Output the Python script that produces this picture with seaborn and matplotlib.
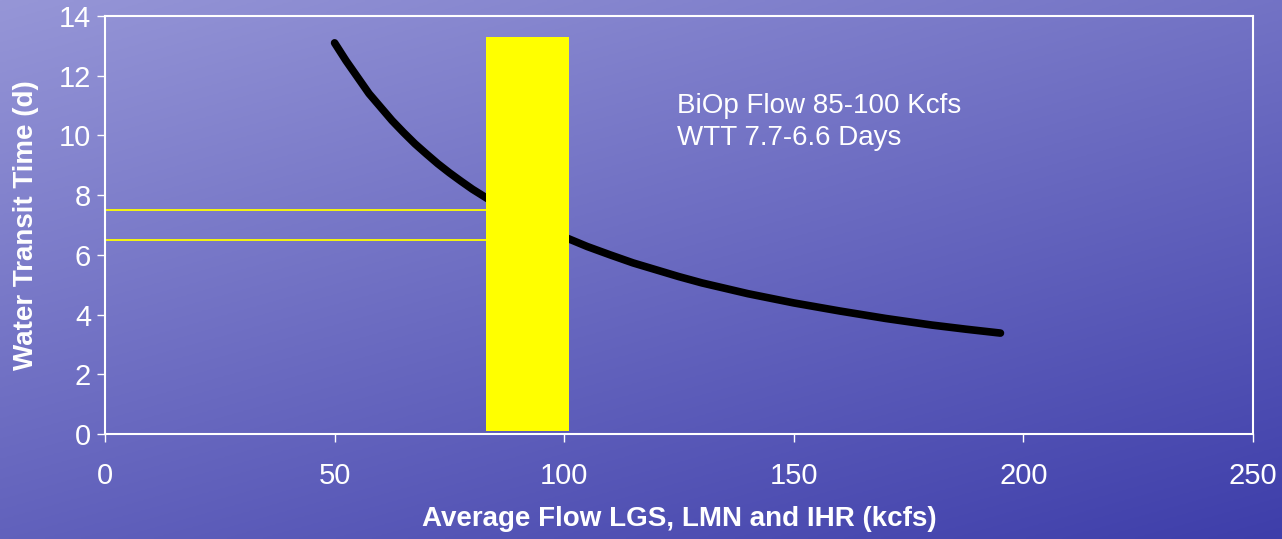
import matplotlib
matplotlib.use("Agg")
import matplotlib.pyplot as plt
import numpy as np
import pandas as pd
import seaborn as sns

# curve
flow = [50, 52.5, 55, 57.5, 60, 62.5, 65, 67.5, 70, 72.5, 75, 77.5, 80, 85, 90, 95, 100,
        105, 110, 115, 120, 125, 130, 140, 150, 160, 170, 180, 187.5, 195]
wtt = [13.1, 12.5, 11.95, 11.4, 10.95, 10.5, 10.1, 9.72, 9.38, 9.05, 8.75, 8.47, 8.2,
       7.72, 7.3, 6.93, 6.6, 6.28, 6.0, 5.73, 5.5, 5.27, 5.06, 4.7, 4.39, 4.12, 3.87,
       3.65, 3.51, 3.38]

bar_left, bar_right = 83, 101
bar_bottom, bar_top = 0.1, 13.3
wtt_lines = [7.5, 6.5]
note = "BiOp Flow 85-100 Kcfs\nWTT 7.7-6.6 Days"

df = pd.DataFrame({"flow": flow, "wtt": wtt})

sns.set_style("ticks")
plt.rcParams["font.family"] = ["Liberation Sans", "DejaVu Sans"]

fig = plt.figure(figsize=(12.82, 5.39), dpi=100)

# background gradient to stand in for the sky/sea photo
bg = fig.add_axes([0, 0, 1, 1], zorder=0)
yy, xx = np.mgrid[0:1:200j, 0:1:400j]
t = np.clip(0.6 * yy + 0.4 * xx, 0, 1)
top = np.array([150, 150, 215]) / 255
bot = np.array([62, 62, 170]) / 255
img = top[None, None, :] * (1 - t[..., None]) + bot[None, None, :] * t[..., None]
bg.imshow(img, aspect="auto", extent=[0, 1, 0, 1], origin="upper")
bg.axis("off")

ax = fig.add_axes([105 / 1282, 1 - 434 / 539, 1148 / 1282, 418 / 539], zorder=1)
ax.set_facecolor("none")

sns.lineplot(data=df, x="flow", y="wtt", color="black", lw=5.5, ax=ax, zorder=2,
             solid_capstyle="round")
ax.hlines(wtt_lines, 0, bar_left, color="#ffff00", lw=1.3, zorder=2)
ax.bar(bar_left, bar_top - bar_bottom, width=bar_right - bar_left, bottom=bar_bottom,
       align="edge", color="#ffff00", edgecolor="#ffff00", lw=0, zorder=3)

ax.text(124.5, 10.45, note, color="white", fontsize=20, va="center", linespacing=1.3)

ax.set_xlim(0, 250)
ax.set_ylim(0, 14)
ax.set_xticks(range(0, 251, 50))
ax.set_yticks(range(0, 15, 2))
for s in ax.spines.values():
    s.set_color("white")
    s.set_linewidth(1.5)
ax.tick_params(colors="white", labelsize=21, length=6, width=1, pad=4)
ax.tick_params(axis="x", pad=14)
ax.set_xlabel("Average Flow LGS, LMN and IHR (kcfs)", color="white", fontsize=20,
              fontweight="bold", labelpad=12)
ax.set_ylabel("Water Transit Time (d)", color="white", fontsize=20,
              fontweight="bold", labelpad=14)

fig.savefig("out.png", dpi=100)
